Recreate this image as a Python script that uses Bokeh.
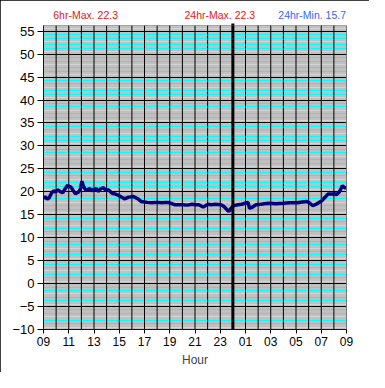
from bokeh.plotting import figure
from bokeh.models import (Range1d, FixedTicker, Grid, Arrow, Label, BoxAnnotation)
from bokeh.embed import file_html
from bokeh.resources import INLINE

# ---- data (hours since 09:00, temperature) ----
hours = [0.00, 0.15, 0.30, 0.45, 0.63, 0.80, 0.95, 1.14, 1.30, 1.52, 1.70, 1.90,
         2.05, 2.15, 2.35, 2.53, 2.65, 2.79, 2.92, 3.04, 3.15, 3.29, 3.45, 3.64,
         3.80, 3.95, 4.18, 4.35, 4.50, 4.71, 4.94, 5.16, 5.44, 5.70, 5.95, 6.20,
         6.40, 6.55, 6.70, 6.90, 7.08, 7.25, 7.46, 7.72, 8.00, 8.20, 8.60, 9.00,
         9.40, 9.72, 10.00, 10.38, 10.70, 11.01, 11.40, 11.77, 12.00, 12.30, 12.50,
         12.66, 12.85, 13.04, 13.29, 13.60, 14.05, 14.30, 14.56, 14.68, 14.85,
         15.06, 15.40, 15.70, 16.07, 16.20, 16.32, 16.50, 16.83, 17.20, 17.84,
         18.40, 19.00, 19.50, 20.12, 20.50, 20.88, 21.10, 21.34, 21.60, 22.02,
         22.30, 22.53, 22.80, 23.03, 23.20, 23.41, 23.55, 23.67, 23.85, 24.00]
temps = [18.6, 18.9, 18.4, 18.7, 19.7, 20.2, 20.0, 20.4, 20.1, 19.8, 20.6, 21.4,
         21.2, 21.1, 20.3, 19.6, 19.8, 20.0, 20.6, 22.3, 21.3, 20.6, 20.3, 20.8,
         20.2, 20.5, 20.7, 20.1, 20.6, 20.9, 20.4, 20.4, 19.7, 19.5, 19.2, 18.8,
         18.5, 18.6, 18.8, 18.9, 19.0, 18.8, 18.5, 17.9, 17.8, 17.7, 17.6, 17.7,
         17.6, 17.7, 17.6, 17.2, 17.2, 17.2, 17.1, 17.3, 17.2, 17.2, 16.9,
         16.7, 17.0, 17.3, 17.2, 17.3, 17.2, 16.8, 16.0, 15.7, 16.4,
         17.0, 17.2, 17.3, 17.6, 17.7, 16.4, 16.6, 17.2, 17.3, 17.5,
         17.4, 17.5, 17.6, 17.6, 17.8, 17.9, 17.5, 17.0, 17.3, 18.0,
         18.8, 19.5, 19.5, 19.6, 19.4, 19.9, 20.6, 21.3, 20.9, 20.9]

x_tick_pos = [0, 2, 4, 6, 8, 10, 12, 14, 16, 18, 20, 22, 24]
x_tick_labels = ["09", "11", "13", "15", "17", "19", "21", "23",
                 "01", "03", "05", "07", "09"]
y_ticks = list(range(-10, 56, 5))
grid_hours = list(range(25))
midnight = 15

stat_texts = ["6hr-Max. 22.3", "24hr-Max. 22.3", "24hr-Min. 15.7"]
stat_colors = ["#e81515", "#e81515", "#3366ff"]

FONT = "Liberation Sans"
Y_LO, Y_HI = -10, 56.25     # plotting area
Y_TOP = 60.6                # includes the header strip

p = figure(width=369, height=372, output_backend="svg", toolbar_location=None,
           x_range=Range1d(0, 24), y_range=Range1d(Y_LO, Y_TOP),
           min_border_left=43, min_border_right=23, min_border_top=5,
           min_border_bottom=43)
p.background_fill_color = "white"
p.border_fill_color = "white"
p.outline_line_color = None
p.styles = {"outline": "1px solid black", "outline-offset": "-1px"}

# gray plotting area
p.add_layout(BoxAnnotation(left=0, right=24, bottom=Y_LO, top=Y_HI,
                           fill_color="#c0c0c0", fill_alpha=1.0,
                           line_color=None, level="underlay"))

# grids
p.xgrid.visible = False
p.ygrid.visible = False
cyan, light = [], []
for base in y_ticks:
    top = base + 5
    for k, off in enumerate([0.75, 1.5, 2.25, 3.0, 3.75, 4.5]):
        v = top - off
        if v <= Y_HI:
            (light if k in (2, 5) else cyan).append(v)
p.add_layout(Grid(dimension=1, ticker=FixedTicker(ticks=light),
                  grid_line_color="#d4d4d4", grid_line_width=1))
p.add_layout(Grid(dimension=1, ticker=FixedTicker(ticks=cyan),
                  grid_line_color="#00ffff", grid_line_width=1))
p.add_layout(Grid(dimension=1, ticker=FixedTicker(ticks=y_ticks),
                  grid_line_color="black", grid_line_width=1))
# hourly vertical lines, only over the plotting area
p.segment(x0=grid_hours, y0=[Y_LO] * len(grid_hours),
          x1=grid_hours, y1=[Y_HI] * len(grid_hours),
          line_color="black", line_width=1)

# frame edge
p.add_layout(BoxAnnotation(left=0, right=24, bottom=Y_LO, top=Y_HI,
                           fill_color=None, line_color="#808080",
                           line_width=1, level="overlay"))

# axes
p.xaxis.ticker = FixedTicker(ticks=x_tick_pos)
p.xaxis.major_label_overrides = {t: l for t, l in zip(x_tick_pos, x_tick_labels)}
p.yaxis.ticker = FixedTicker(ticks=y_ticks)
p.yaxis.bounds = (Y_LO, Y_HI)
for ax in (p.xaxis[0], p.yaxis[0]):
    ax.axis_line_color = "black"
    ax.major_tick_line_color = "black"
    ax.minor_tick_line_color = None
    ax.major_tick_in = 0
    ax.major_label_text_font = FONT
    ax.major_label_text_color = "black"
p.xaxis.major_tick_out = 4
p.yaxis.major_tick_out = 6
p.xaxis.major_label_text_font_size = "12px"
p.yaxis.major_label_text_font_size = "13px"
p.xaxis.major_label_standoff = 3
p.yaxis.major_label_standoff = 3
p.xaxis.axis_label = "Hour"
p.xaxis.axis_label_text_font = FONT
p.xaxis.axis_label_text_font_style = "normal"
p.xaxis.axis_label_text_font_size = "12px"
p.xaxis.axis_label_standoff = 4

# midnight marker
p.add_layout(Arrow(end=None, x_start=midnight, x_end=midnight,
                   y_start=-12.1, y_end=56.7, line_width=3, line_color="black"))

# temperature line
p.line(hours, temps, line_color="#000080", line_width=3.5)

# stats header
for txt, col, xpos in zip(stat_texts, stat_colors, [0.77, 11.17, 18.6]):
    p.add_layout(Label(x=xpos, y=58.55, text=txt, text_color=col,
                       text_font=FONT, text_font_size="10.5px",
                       text_baseline="middle"))

open("out.html", "w").write(file_html(p, INLINE))
